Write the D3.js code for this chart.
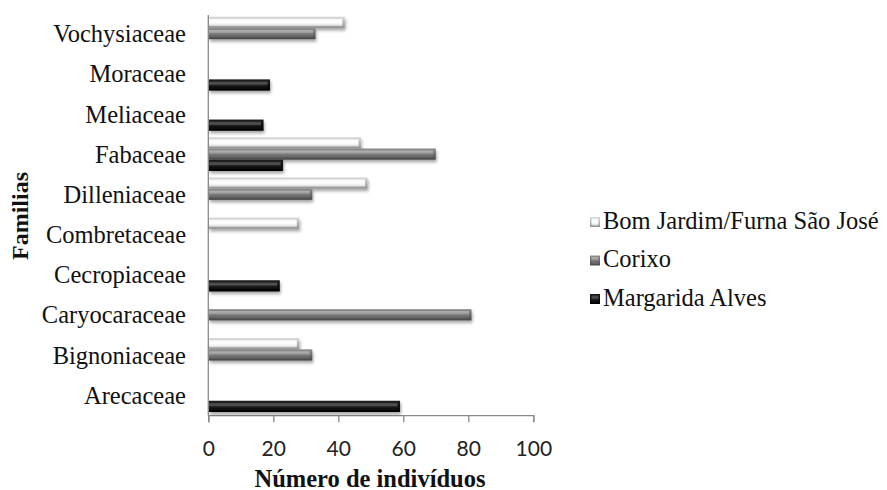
<!DOCTYPE html>
<html>
<head>
<meta charset="utf-8">
<script src="https://cdn.jsdelivr.net/npm/d3@7"></script>
<style>
  html, body { margin: 0; padding: 0; background: #fff; }
  svg { display: block; }
  .serif { font-family: "Liberation Serif", serif; }
</style>
</head>
<body>
<svg id="chart" width="887" height="490"></svg>
<script>
// Families, top to bottom
const families = ["Vochysiaceae", "Moraceae", "Meliaceae", "Fabaceae", "Dilleniaceae",
  "Combretaceae", "Cecropiaceae", "Caryocaraceae", "Bignoniaceae", "Arecaceae"];

const seriesNames = ["Bom Jardim/Furna São José", "Corixo", "Margarida Alves"];

// Number of individuals per family for each site (0 = absent)
const bomJardim = [42, 0, 0, 47, 49, 28, 0, 0, 28, 0];
const corixo    = [33, 0, 0, 70, 32, 0, 0, 81, 32, 0];
const margarida = [0, 19, 17, 23, 0, 0, 22, 0, 0, 59];

const xTicks = [0, 20, 40, 60, 80, 100];

const seriesValues = [bomJardim, corixo, margarida];

const svg = d3.select("#chart");

const x = d3.scaleLinear().domain([0, 100]).range([208.3, 533.3]);
const y = d3.scaleBand().domain(families).range([13.5, 415.2]).padding(0);
const inner = d3.scaleBand().domain(seriesNames)
  .range([y.bandwidth() * 0.08, y.bandwidth() * 0.92]).padding(0);

// Glossy bevel styles: outer edge gradient + inner face gradient
const styles = [
  { edge: [["0", "#dadada"], ["1", "#949494"]],
    face: [["0", "#f6f6f6"], ["0.45", "#ffffff"], ["0.75", "#f0f0f0"], ["1", "#d2d2d2"]] },
  { edge: [["0", "#8e8e8e"], ["1", "#474747"]],
    face: [["0", "#b4b4b4"], ["0.35", "#9c9c9c"], ["0.5", "#7c7c7c"], ["1", "#5e5e5e"]] },
  { edge: [["0", "#1e1e1e"], ["1", "#000000"]],
    face: [["0", "#3c3c3c"], ["0.35", "#565656"], ["0.55", "#1c1c1c"], ["1", "#080808"]] }
];

const defs = svg.append("defs");
styles.forEach((s, i) => {
  ["edge", "face"].forEach(k => {
    const g = defs.append("linearGradient")
      .attr("id", `${k}${i}`).attr("x1", 0).attr("y1", 0).attr("x2", 0).attr("y2", 1);
    s[k].forEach(([o, c]) => g.append("stop").attr("offset", o).attr("stop-color", c));
  });
});
const shadow = defs.append("filter").attr("id", "shadow")
  .attr("x", "-5%").attr("y", "-30%").attr("width", "115%").attr("height", "190%");
shadow.append("feDropShadow").attr("dx", 1).attr("dy", 2.5)
  .attr("stdDeviation", 1.6).attr("flood-color", "#000").attr("flood-opacity", 0.35);

// Axes lines
const axisColor = "#8a8a8a";
svg.append("line")
  .attr("x1", x(0)).attr("x2", x(0))
  .attr("y1", 15).attr("y2", 415.2)
  .attr("stroke", axisColor).attr("stroke-width", 1.3);

const xAxis = d3.axisBottom(x).tickValues(xTicks).tickSize(7).tickPadding(19)
  .tickFormat(d3.format("d"));
const gx = svg.append("g").attr("transform", "translate(0,415.2)").call(xAxis);
gx.select(".domain").attr("stroke", axisColor).attr("stroke-width", 1.3);
gx.selectAll(".tick line").attr("stroke", axisColor).attr("stroke-width", 1.3);
gx.selectAll(".tick text")
  .attr("font-family", "Lato, 'Open Sans', sans-serif")
  .attr("font-size", 21).attr("fill", "#222");

// Bars
const rows = families.map((f, fi) => ({
  family: f,
  bars: seriesNames.map((s, si) => ({ s, si, v: seriesValues[si][fi] }))
}));

const groups = svg.append("g").selectAll("g.fam").data(rows).join("g")
  .attr("class", "fam")
  .attr("transform", d => `translate(0,${y(d.family)})`);

const bars = groups.selectAll("g.bar").data(d => d.bars.filter(b => b.v > 0)).join("g")
  .attr("class", "bar")
  .attr("filter", "url(#shadow)");

bars.append("rect")
  .attr("x", x(0) + 0.7)
  .attr("y", d => inner(d.s))
  .attr("width", d => x(d.v) - x(0) - 0.7)
  .attr("height", inner.bandwidth())
  .attr("fill", d => `url(#edge${d.si})`);

bars.append("rect")
  .attr("x", x(0) + 0.7)
  .attr("y", d => inner(d.s) + 2)
  .attr("width", d => Math.max(0, x(d.v) - x(0) - 0.7 - 2.5))
  .attr("height", inner.bandwidth() - 4)
  .attr("fill", d => `url(#face${d.si})`);

// Category labels
svg.append("g").attr("class", "serif").selectAll("text").data(families).join("text")
  .attr("class", "serif")
  .attr("x", 186)
  .attr("y", d => y(d) + y.bandwidth() / 2)
  .attr("dy", "0.35em")
  .attr("text-anchor", "end")
  .attr("font-size", 24.5)
  .attr("fill", "#111")
  .text(d => d);

// Axis titles
svg.append("text").attr("class", "serif")
  .attr("x", 370).attr("y", 487)
  .attr("text-anchor", "middle")
  .attr("font-weight", "bold").attr("font-size", 24.5).attr("fill", "#111")
  .text("Número de indivíduos");

svg.append("text").attr("class", "serif")
  .attr("transform", "translate(28,216) rotate(-90)")
  .attr("text-anchor", "middle")
  .attr("font-weight", "bold").attr("font-size", 24).attr("fill", "#111")
  .text("Familias");

// Legend
const legendY = [220, 258.5, 297];
const legend = svg.append("g").attr("class", "serif")
  .selectAll("g").data(seriesNames).join("g")
  .attr("transform", (d, i) => `translate(590,${legendY[i]})`);

legend.append("rect")
  .attr("x", 0).attr("y", -3).attr("width", 10).attr("height", 10)
  .attr("fill", (d, i) => `url(#edge${i})`);
legend.append("rect")
  .attr("x", 1.5).attr("y", -1.5).attr("width", 7).attr("height", 7)
  .attr("fill", (d, i) => `url(#face${i})`);

legend.append("text")
  .attr("class", "serif")
  .attr("x", 13).attr("y", 0)
  .attr("dy", "0.35em")
  .attr("font-size", 24.5)
  .attr("fill", "#111")
  .text(d => d);
</script>
</body>
</html>
